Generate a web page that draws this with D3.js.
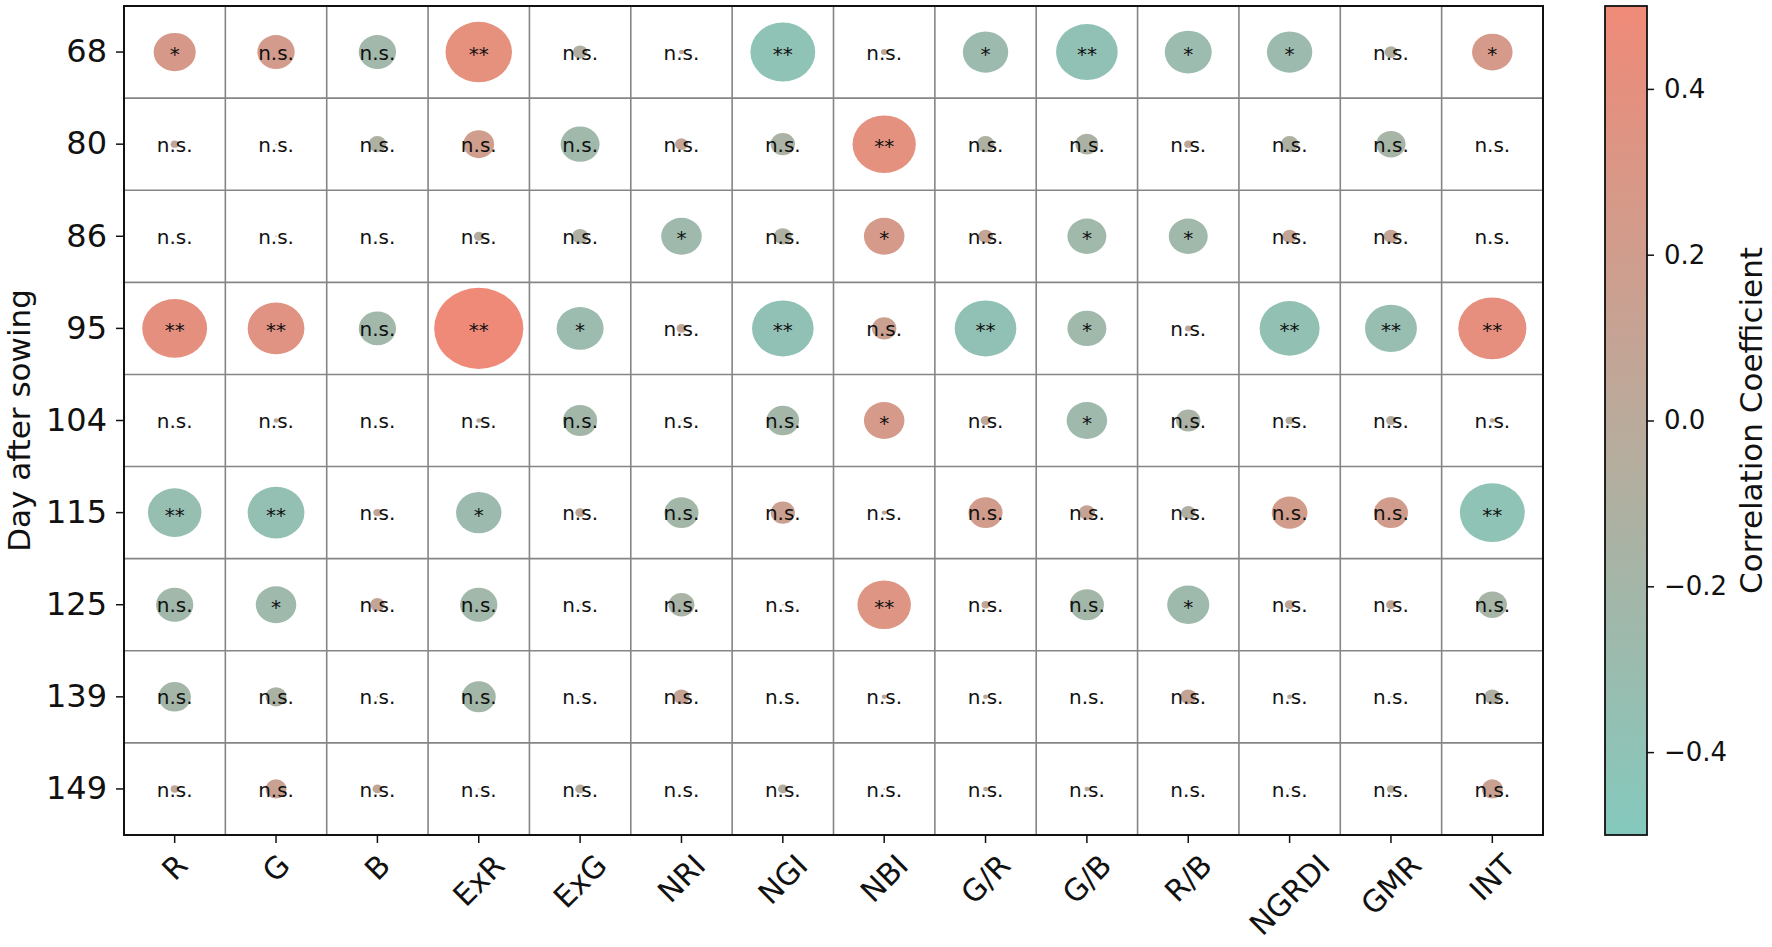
<!DOCTYPE html>
<html lang="en">
<head>
    <meta charset="UTF-8">
    <title>Correlation bubble grid</title>
    <script src="https://cdn.jsdelivr.net/npm/d3@7/dist/d3.min.js"></script>
    <style>
        body { margin: 0; background: #fff; }
        text { font-family: "DejaVu Sans", sans-serif; }
    </style>
</head>
<body>
<div class="chart-container"></div>
<script>
    const indices = ['R', 'G', 'B', 'ExR', 'ExG', 'NRI', 'NGI', 'NBI', 'G/R', 'G/B', 'R/B', 'NGRDI', 'GMR', 'INT']
    const days = ['68', '80', '86', '95', '104', '115', '125', '139', '149']

    // correlation coefficient per day, one value per index (same order as indices)
    const corr68  = [0.26, 0.23, -0.23, 0.41, -0.09, 0.03, -0.40, 0.04, -0.28, -0.38, -0.29, -0.28, -0.08, 0.25]
    const corr80  = [0.05, 0.01, -0.11, 0.19, -0.24, 0.08, -0.15, 0.39, -0.11, -0.14, 0.05, -0.11, -0.18, 0.00]
    const corr86  = [0.00, 0.01, 0.00, -0.06, -0.10, -0.25, -0.11, 0.25, 0.09, -0.24, -0.24, 0.09, 0.09, 0.00]
    const corr95  = [0.40, 0.35, -0.23, 0.55, -0.29, 0.06, -0.38, 0.15, -0.38, -0.24, 0.04, -0.37, -0.32, 0.42]
    const corr104 = [0.00, -0.03, 0.00, -0.03, -0.21, -0.01, -0.20, 0.25, 0.06, -0.25, -0.15, -0.05, -0.06, -0.03]
    const corr115 = [-0.33, -0.35, 0.05, -0.28, 0.06, -0.21, 0.15, 0.03, 0.21, 0.10, -0.09, 0.22, 0.21, -0.40]
    const corr125 = [-0.23, -0.25, 0.09, -0.23, 0.01, -0.16, 0.01, 0.33, 0.05, -0.21, -0.26, 0.06, 0.06, -0.18]
    const corr139 = [-0.20, -0.13, 0.01, -0.21, 0.01, 0.10, 0.00, 0.03, 0.03, 0.00, 0.10, -0.03, -0.01, -0.10]
    const corr149 = [0.05, 0.13, 0.06, 0.01, -0.06, 0.00, -0.06, 0.01, 0.03, -0.03, 0.00, 0.01, -0.05, 0.13]

    const sig68  = ['*', 'n.s.', 'n.s.', '**', 'n.s.', 'n.s.', '**', 'n.s.', '*', '**', '*', '*', 'n.s.', '*']
    const sig80  = ['n.s.', 'n.s.', 'n.s.', 'n.s.', 'n.s.', 'n.s.', 'n.s.', '**', 'n.s.', 'n.s.', 'n.s.', 'n.s.', 'n.s.', 'n.s.']
    const sig86  = ['n.s.', 'n.s.', 'n.s.', 'n.s.', 'n.s.', '*', 'n.s.', '*', 'n.s.', '*', '*', 'n.s.', 'n.s.', 'n.s.']
    const sig95  = ['**', '**', 'n.s.', '**', '*', 'n.s.', '**', 'n.s.', '**', '*', 'n.s.', '**', '**', '**']
    const sig104 = ['n.s.', 'n.s.', 'n.s.', 'n.s.', 'n.s.', 'n.s.', 'n.s.', '*', 'n.s.', '*', 'n.s.', 'n.s.', 'n.s.', 'n.s.']
    const sig115 = ['**', '**', 'n.s.', '*', 'n.s.', 'n.s.', 'n.s.', 'n.s.', 'n.s.', 'n.s.', 'n.s.', 'n.s.', 'n.s.', '**']
    const sig125 = ['n.s.', '*', 'n.s.', 'n.s.', 'n.s.', 'n.s.', 'n.s.', '**', 'n.s.', 'n.s.', '*', 'n.s.', 'n.s.', 'n.s.']
    const sig139 = ['n.s.', 'n.s.', 'n.s.', 'n.s.', 'n.s.', 'n.s.', 'n.s.', 'n.s.', 'n.s.', 'n.s.', 'n.s.', 'n.s.', 'n.s.', 'n.s.']
    const sig149 = ['n.s.', 'n.s.', 'n.s.', 'n.s.', 'n.s.', 'n.s.', 'n.s.', 'n.s.', 'n.s.', 'n.s.', 'n.s.', 'n.s.', 'n.s.', 'n.s.']

    const colorTicks = [-0.4, -0.2, 0.0, 0.2, 0.4]

    const corrRows = [corr68, corr80, corr86, corr95, corr104, corr115, corr125, corr139, corr149]
    const sigRows = [sig68, sig80, sig86, sig95, sig104, sig115, sig125, sig139, sig149]

    const width = 1772
    const height = 947
    const plot = { left: 124, right: 1543, top: 6, bottom: 835 }
    const bar = { left: 1605, right: 1647 }

    const cells = []
    days.forEach((day, i) => {
        indices.forEach((idx, j) => {
            cells.push({ day, idx, r: corrRows[i][j], sig: sigRows[i][j] })
        })
    })

    const xScale = d3.scaleBand().domain(indices).range([plot.left, plot.right])
    const yScale = d3.scaleBand().domain(days).range([plot.top, plot.bottom])
    const color = d3.scaleLinear()
        .domain([-0.5, 0.5])
        .range(['#84c9bd', '#f08a78'])
        .interpolate(d3.interpolateRgb)
        .clamp(true)
    // bubble radius as a share of the cell
    const radius = d3.scaleLinear().domain([0, 1]).range([0, 0.8])
    const cScale = d3.scaleLinear().domain([-0.5, 0.5]).range([plot.bottom, plot.top])

    const svg = d3.select('.chart-container')
        .append('svg')
        .attr('width', width)
        .attr('height', height)

    // cell borders
    const grid = svg.append('g').attr('class', 'grid')
    indices.slice(1).forEach(idx => {
        grid.append('line')
            .attr('x1', xScale(idx)).attr('x2', xScale(idx))
            .attr('y1', plot.top).attr('y2', plot.bottom)
    })
    days.slice(1).forEach(day => {
        grid.append('line')
            .attr('x1', plot.left).attr('x2', plot.right)
            .attr('y1', yScale(day)).attr('y2', yScale(day))
    })
    grid.selectAll('line').attr('stroke', '#858585').attr('stroke-width', 1.6)

    svg.append('g').selectAll('ellipse')
        .data(cells)
        .enter()
        .append('ellipse')
        .attr('cx', d => xScale(d.idx) + xScale.bandwidth() / 2)
        .attr('cy', d => yScale(d.day) + yScale.bandwidth() / 2)
        .attr('rx', d => radius(Math.abs(d.r)) * xScale.bandwidth())
        .attr('ry', d => radius(Math.abs(d.r)) * yScale.bandwidth())
        .attr('fill', d => color(d.r))

    svg.append('g').selectAll('text')
        .data(cells)
        .enter()
        .append('text')
        .attr('x', d => xScale(d.idx) + xScale.bandwidth() / 2)
        .attr('y', d => yScale(d.day) + yScale.bandwidth() / 2)
        .attr('dy', d => d.sig === 'n.s.' ? '0.38em' : '0.45em')
        .attr('text-anchor', 'middle')
        .attr('font-size', '20px')
        .attr('fill', '#111')
        .text(d => d.sig)

    svg.append('rect')
        .attr('x', plot.left).attr('y', plot.top)
        .attr('width', plot.right - plot.left).attr('height', plot.bottom - plot.top)
        .attr('fill', 'none').attr('stroke', '#111').attr('stroke-width', 2)

    // y axis
    const yAxis = svg.append('g')
        .attr('transform', `translate(${plot.left}, 0)`)
        .call(d3.axisLeft(yScale).tickSize(8).tickPadding(9))
    yAxis.select('.domain').remove()
    yAxis.selectAll('line').attr('stroke', '#111').attr('stroke-width', 1.5)
    yAxis.selectAll('text').attr('font-size', '32px').attr('fill', '#111')
        .attr('font-family', '"DejaVu Sans", sans-serif')

    // x axis, labels turned 45 degrees and centred under their tick
    const xFont = 30
    const xAxis = svg.append('g')
        .attr('transform', `translate(0, ${plot.bottom})`)
        .call(d3.axisBottom(xScale).tickSize(8))
    xAxis.select('.domain').remove()
    xAxis.selectAll('line').attr('stroke', '#111').attr('stroke-width', 1.5)
    xAxis.selectAll('text')
        .attr('font-size', xFont + 'px').attr('fill', '#111')
        .attr('font-family', '"DejaVu Sans", sans-serif')
        .attr('y', 0).attr('dy', '0.35em')
        .attr('text-anchor', 'middle')
        .each(function () {
            const len = this.getComputedTextLength()
            const h = xFont * 0.75
            const half = (len + h) / (2 * Math.SQRT2)
            d3.select(this).attr('transform', `translate(0, ${17 + half}) rotate(-45)`)
        })

    svg.append('text')
        .attr('transform', `translate(30, ${(plot.top + plot.bottom) / 2}) rotate(-90)`)
        .attr('text-anchor', 'middle')
        .attr('font-size', '31px')
        .attr('fill', '#111')
        .text('Day after sowing')

    // colour bar
    const defs = svg.append('defs')
    const grad = defs.append('linearGradient')
        .attr('id', 'cbar')
        .attr('x1', 0).attr('y1', 1).attr('x2', 0).attr('y2', 0)
    d3.range(0, 1.0001, 0.1).forEach(t => {
        grad.append('stop')
            .attr('offset', t)
            .attr('stop-color', color(-0.5 + t))
    })
    svg.append('rect')
        .attr('x', bar.left).attr('y', plot.top)
        .attr('width', bar.right - bar.left).attr('height', plot.bottom - plot.top)
        .attr('fill', 'url(#cbar)').attr('stroke', '#111').attr('stroke-width', 1.8)

    const cAxis = svg.append('g')
        .attr('transform', `translate(${bar.right}, 0)`)
        .call(d3.axisRight(cScale).tickValues(colorTicks).tickFormat(d3.format('.1f')).tickSize(7).tickPadding(10))
    cAxis.select('.domain').remove()
    cAxis.selectAll('line').attr('stroke', '#111').attr('stroke-width', 1.5)
    cAxis.selectAll('text').attr('font-size', '26px').attr('fill', '#111')
        .attr('font-family', '"DejaVu Sans", sans-serif')

    svg.append('text')
        .attr('transform', `translate(1762, ${(plot.top + plot.bottom) / 2}) rotate(-90)`)
        .attr('text-anchor', 'middle')
        .attr('font-size', '31px')
        .attr('fill', '#111')
        .text('Correlation Coefficient')
</script>
</body>
</html>
